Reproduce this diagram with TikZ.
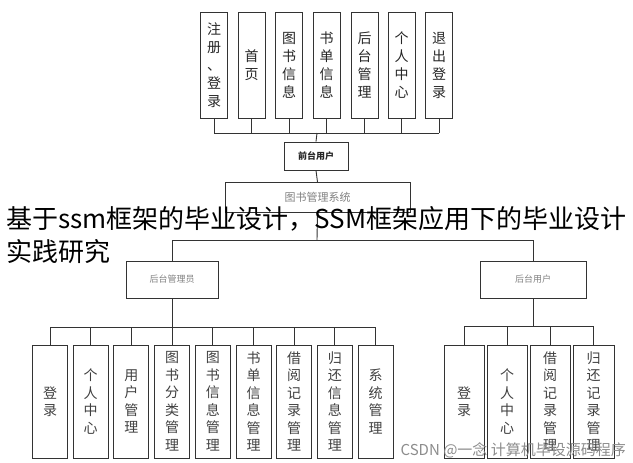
\documentclass[tikz,border=0pt]{standalone}
\usepackage{fontspec}
\newfontfamily\cjk{Noto Sans CJK SC}
\begin{document}
\begin{tikzpicture}[x=1pt,y=-1pt,
  box/.style={draw=black!80,line width=0.9pt,inner sep=0pt,align=center,font=\cjk\fontsize{14}{18}\selectfont,text=black!85},
  topbox/.style={box,minimum width=27pt,minimum height=106pt},
  lowbox/.style={box,minimum width=35pt,minimum height=113pt,font=\cjk\fontsize{14}{17.5}\selectfont,text=black!75},
  role/.style={draw=black!80,line width=0.9pt,inner sep=0pt,font=\cjk\fontsize{9}{10}\selectfont,text=black!50},
  ln/.style={draw=black!80,line width=0.9pt}]
\useasboundingbox (0,0) rectangle (633,463);
% top level
\node[topbox] (t1) at (214,65) {注\\册\\、\\登\\录};
\node[topbox] (t2) at (251.5,65) {首\\页};
\node[topbox] (t3) at (289,65) {图\\书\\信\\息};
\node[topbox] (t4) at (326.5,65) {书\\单\\信\\息};
\node[topbox] (t5) at (364.5,65) {后\\台\\管\\理};
\node[topbox] (t6) at (401.5,65) {个\\人\\中\\心};
\node[topbox] (t7) at (439,65) {退\\出\\登\\录};
\node[role,minimum width=64pt,minimum height=28pt,text=black!85,font=\cjk\fontsize{9}{10}\selectfont\bfseries] (fu) at (316,156) {前台用户};
\node[role,minimum width=185pt,minimum height=30pt,anchor=north,font=\cjk\fontsize{11}{12}\selectfont] (sys) at (317.5,182) {图书管理系统};
\coordinate (tb) at (317,133);
\foreach \i in {1,...,7}{\draw[ln] (t\i.south) -- (t\i.south |- tb);}
\draw[ln] (t1.south |- tb) -- (t7.south |- tb);
\draw[ln] (tb) -- (fu.north);
\draw[ln] (fu.south) -- (sys.north);
% second level
\node[role,minimum width=92pt,minimum height=37pt] (adm) at (172,279.5) {后台管理员};
\node[role,minimum width=106pt,minimum height=37pt] (usr) at (533,279.5) {后台用户};
\coordinate (mb) at (317,240);
\draw[ln] (sys.south) -- (mb);
\draw[ln] (adm.north) -- (adm.north |- mb) -- (usr.north |- mb) -- (usr.north);
% admin boxes
\coordinate (ab) at (0,327);
\foreach \t [count=\i] in {{登\\录},{个\\人\\中\\心},{用\\户\\管\\理},{图\\书\\分\\类\\管\\理},{图\\书\\信\\息\\管\\理},{书\\单\\信\\息\\管\\理},{借\\阅\\记\\录\\管\\理},{归\\还\\信\\息\\管\\理},{系\\统\\管\\理}}{
  \node[lowbox] (a\i) at ({50+40.7*(\i-1)},401.5) {\t};
  \draw[ln] (a\i.north) -- (a\i.north |- ab);
}
\draw[ln] (a1.north |- ab) -- (a9.north |- ab);
\draw[ln] (adm.south) -- (adm.south |- ab);
% user boxes
\coordinate (ub) at (0,326);
\foreach \t/\x/\w [count=\i] in {{登\\录}/464/40,{个\\人\\中\\心}/507/40,{借\\阅\\记\\录\\管\\理}/550/40,{归\\还\\记\\录\\管\\理}/593.5/41}{
  \node[lowbox,minimum width=\w pt] (u\i) at (\x,401.5) {\t};
  \draw[ln] (u\i.north) -- (u\i.north |- ub);
}
\draw[ln] (u1.north |- ub) -- (u4.north |- ub);
\draw[ln] (usr.south) -- (usr.south |- ub);
% overlay texts
\node[anchor=west,inner sep=0pt,font=\cjk\fontsize{26}{28}\selectfont] (ov1) at (6,219) {基于ssm框架的毕业设计，SSM框架应用下的毕业设计};
\node[anchor=west,inner sep=0pt,font=\cjk\fontsize{26}{28}\selectfont] (ov2) at (6,252) {实践研究};
\node[anchor=east,inner sep=0pt,font=\cjk\fontsize{15}{17}\selectfont,text=black!45] (wm) at (626,450) {CSDN @一念 计算机毕设源码程序};
\end{tikzpicture}
\end{document}
